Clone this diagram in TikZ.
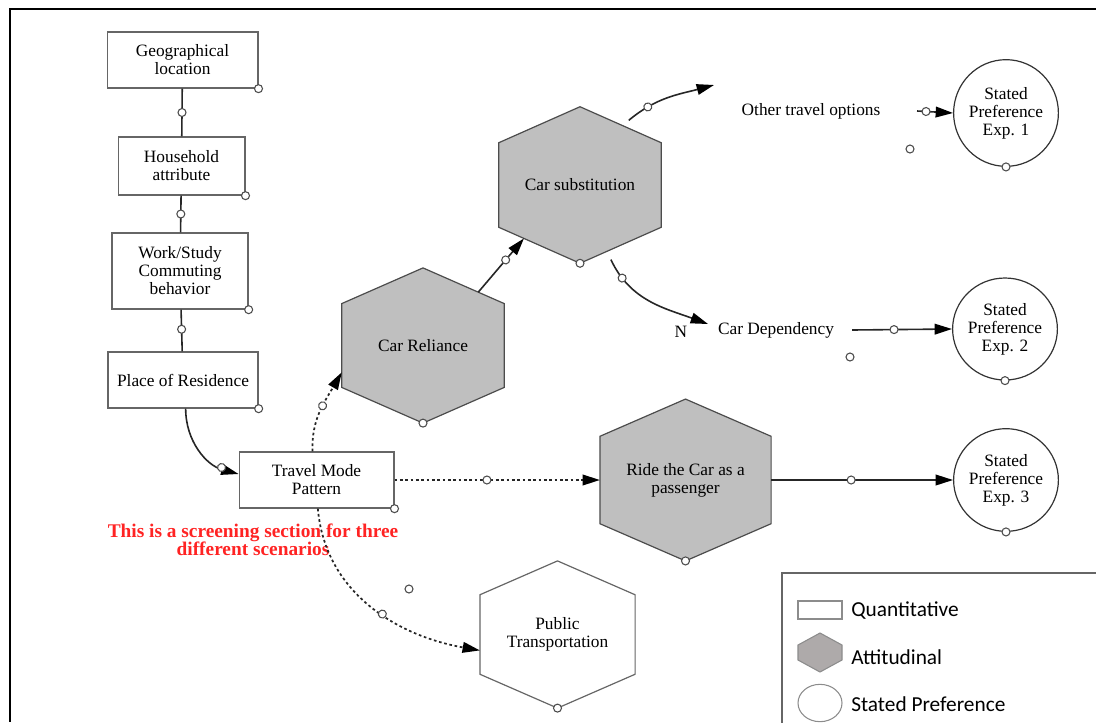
\documentclass[tikz,border=0pt]{standalone}
\usepackage{fontspec}
\setmainfont{Liberation Serif}
\newfontfamily\legendfont{Carlito}
\usepackage{tikz}
\usetikzlibrary{arrows.meta, positioning, shapes.geometric, calc, backgrounds,
                decorations.markings}
\definecolor{hexgray}{RGB}{191,191,191}
\definecolor{keygray}{RGB}{174,170,170}
\definecolor{notered}{RGB}{255,35,35}

% outline of a stretched hexagon round a named node
\newcommand{\hexoutline}[2]{%
  \coordinate (#1-n) at (#1.north);
  \coordinate (#1-ne) at ($(#1.north east)!0.23!(#1.south east)$);
  \coordinate (#1-se) at ($(#1.south east)!0.23!(#1.north east)$);
  \coordinate (#1-s) at (#1.south);
  \coordinate (#1-sw) at ($(#1.south west)!0.23!(#1.north west)$);
  \coordinate (#1-nw) at ($(#1.north west)!0.23!(#1.south west)$);
  \begin{scope}[on background layer]
    \draw[#2] (#1-n) -- (#1-ne) -- (#1-se) -- (#1-s) -- (#1-sw) -- (#1-nw) -- cycle;
  \end{scope}}

\tikzset{
  every node/.style={font=\fontsize{13}{13.5}\selectfont},
  quant/.style={draw=black!60, line width=1pt, fill=white, inner sep=0pt, align=center},
  hexnode/.style={inner sep=0pt, align=center},
  attit/.style={draw=black!70, line width=0.9pt, fill=hexgray},
  plainhex/.style={draw=black!60, line width=0.9pt, fill=white},
  statedpref/.style={ellipse, draw=black!80, line width=0.9pt, inner sep=0pt, align=center},
  link/.style={draw=black!85, line width=1.2pt},
  dotlink/.style={link, line width=1.3pt, dash pattern=on 2pt off 2pt},
  tip/.style={-{Triangle[length=13pt,width=8pt,color=black]}},
  knob/.style={draw=black!70, fill=white, solid, line width=0.8pt},
  knobat/.style={postaction={decorate}, decoration={markings,
      mark=at position #1 with {\draw[knob] (0,0) circle (3pt);}}},
  keytext/.style={anchor=west, inner sep=0pt, font=\legendfont\fontsize{16}{18}\selectfont}
}

\begin{document}
\begin{tikzpicture}[x=0.75pt, y=-0.75pt]
  \useasboundingbox (0,0) rectangle (1096,722);
  \draw[line width=1.6pt] (1096,9) -- (10,9) -- (10,722);

  % Quantitative boxes
  \node[quant, minimum width=113pt, minimum height=42pt] (geo) at (182.5,60) {Geographical\\location};
  \node[quant, minimum width=95pt, minimum height=43.5pt] (house) at (181.5,166) {Household\\attribute};
  \node[quant, minimum width=102pt, minimum height=57pt] (work) at (180,271) {Work/Study\\Commuting\\behavior};
  \node[quant, minimum width=112.5pt, minimum height=42pt] (res) at (183,380) {Place of Residence};
  \node[quant, minimum width=116pt, minimum height=42pt] (tmp) at (316.5,480) {Travel Mode\\Pattern};

  % Attitudinal hexagons
  \node[hexnode, minimum width=121.5pt, minimum height=116pt] (rel) at (423,345.5) {Car Reliance};
  \hexoutline{rel}{attit}
  \node[hexnode, minimum width=121.5pt, minimum height=117pt] (sub) at (580,185) {Car substitution};
  \hexoutline{sub}{attit}
  \node[hexnode, minimum width=128pt, minimum height=121pt] (ride) at (685.5,480) {Ride the Car as a\\passenger};
  \hexoutline{ride}{attit}
  \node[hexnode, minimum width=116pt, minimum height=110pt] (pub) at (557.5,634.5) {Public\\Transportation};
  \hexoutline{pub}{plainhex}

  % Stated preference
  \node[statedpref, minimum width=77pt, minimum height=80pt] (sp1) at (1006,113) {Stated\\Preference\\Exp. 1};
  \node[statedpref, minimum width=73.5pt, minimum height=76.5pt] (sp2) at (1005,329) {Stated\\Preference\\Exp. 2};
  \node[statedpref, minimum width=78pt, minimum height=77pt] (sp3) at (1006,480) {Stated\\Preference\\Exp. 3};

  % Plain labels
  \node (oth) at (811,111) {Other travel options};
  \node (dep) at (776,330) {Car Dependency};
  \node (nlab) at (681,332) {N};
  \coordinate (othend) at (714,85);
  \coordinate (depend) at (708,324);
  \node[font=\fontsize{14.5}{13.5}\selectfont\bfseries, text=notered, align=center] (note) at (253,540)
    {This is a screening section for three\\different scenarios};

  % Connectors
  \draw[link, knobat=0.5] (geo) -- (house);
  \draw[link, knobat=0.5] (house) -- (work);
  \draw[link, knobat=0.47] (work) -- (res);
  \draw[link, tip, knobat=0.8] ([xshift=2pt]res.south) to[out=-90, in=165] ([yshift=4.5pt]tmp.west);
  \draw[dotlink, tip, knobat=0.55] ([xshift=-3pt]tmp.north) to[out=92, in=240] ($(rel-nw)!0.82!(rel-sw)$);
  \draw[dotlink, tip, knobat=0.45] (tmp.east) -- (ride.west);
  \draw[dotlink, tip, knobat=0.55] ([xshift=1pt]tmp.south) to[out=-85, in=170] ($(pub-nw)!0.7!(pub-sw)$);
  \draw[link, tip, knobat=0.6] ($(rel-n)!0.68!(rel-ne)$) -- ($(sub-sw)!0.31!(sub-s)$);
  \draw[link, tip, knobat=0.25] ($(sub-n)!0.6!(sub-ne)+(0,-8)$) to[out=40, in=195] (othend);
  \draw[link, tip, knobat=0.18] ($(sub-se)!0.62!(sub-s)+(0,10)$) to[out=-65, in=160] (depend);
  \draw[link, tip, knobat=0.25] ([xshift=24pt]oth.east) -- (sp1.west);
  \draw[link, tip, knobat=0.42] ([xshift=10pt]dep.east) -- (sp2.west);
  \draw[link, tip, knobat=0.44] (ride.east) -- (sp3.west);

  % Small circles
  \foreach \n in {geo,house,work,res,tmp}
    \draw[knob] (\n.south east) circle (3pt);
  \foreach \n in {rel-s,sub-s,ride-s,pub-s,sp1.south,sp2.south,sp3.south}
    \draw[knob] (\n) circle (3pt);
  \foreach \p in {(910,149),(850,357),(409,589)}
    \draw[knob] \p circle (3pt);

  % Legend
  \draw[draw=black!60, line width=0.8pt] (782,573) rectangle (1100,726);
  \draw[draw=black!45, line width=0.8pt, fill=white] (798,601) rectangle (842,619);
  \draw[draw=black!45, line width=0.8pt, fill=keygray] (820,633) -- (842,645) -- (842,660)
    -- (820,672) -- (798,660) -- (798,645) -- cycle;
  \draw[draw=black!45, line width=0.8pt] (820,703) ellipse [x radius=16.5pt, y radius=14pt];
  \node[keytext] (kquant) at (851,611) {Quantitative};
  \node[keytext] (katt) at (851,657) {Attitudinal};
  \node[keytext] (ksp) at (851,704) {Stated Preference};
\end{tikzpicture}
\end{document}
